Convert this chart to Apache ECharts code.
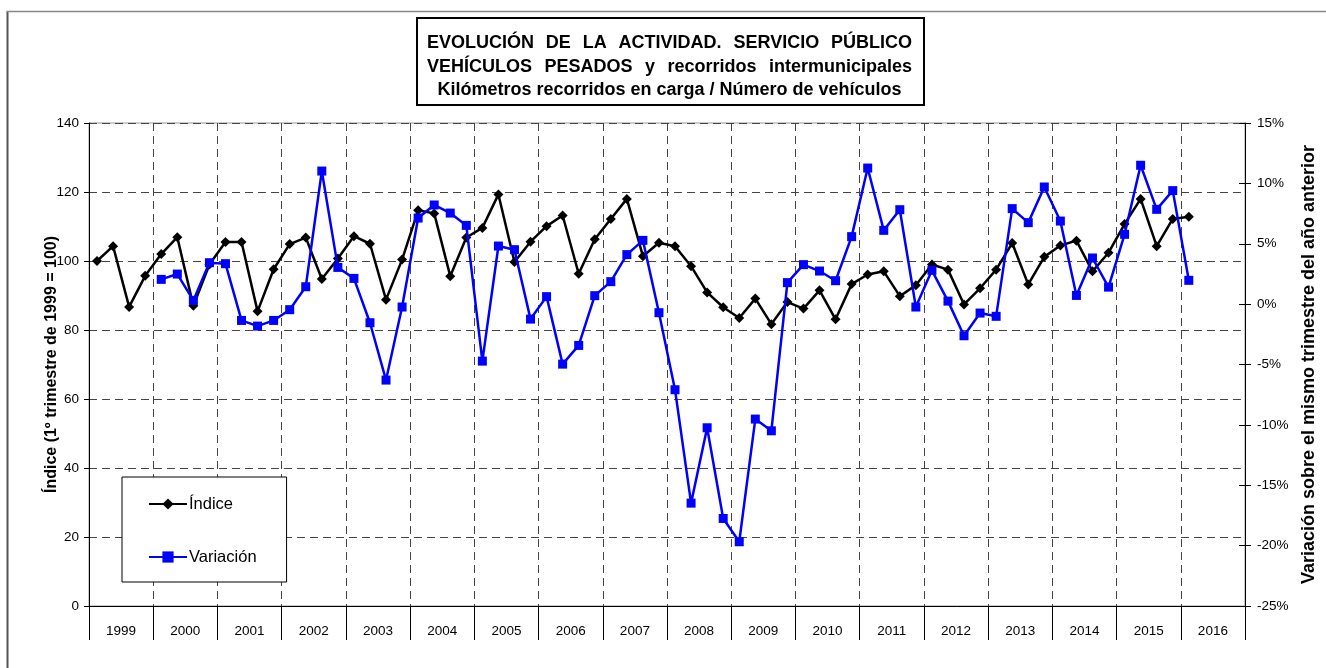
<!DOCTYPE html>
<html>
<head>
<meta charset="utf-8">
<script src="https://cdn.jsdelivr.net/npm/echarts@6/dist/echarts.min.js"></script>
<style>
  html, body { margin: 0; padding: 0; background: #fff; }
  #chart { width: 1326px; height: 668px; }
</style>
</head>
<body>
<div id="chart"></div>
<script>
// Years shown on the category axis (four quarters each)
const years = ['1999','2000','2001','2002','2003','2004','2005','2006','2007',
               '2008','2009','2010','2011','2012','2013','2014','2015','2016'];
const quarters = ['I','II','III','IV'];

// Activity index, 1st quarter 1999 = 100 (1999-I .. 2016-I)
const indice = [
  100.0, 104.3, 86.7, 95.7,
  102.0, 106.9, 87.0, 99.0,
  105.5, 105.5, 85.4, 97.6,
  104.9, 106.8, 94.8, 100.7,
  107.2, 105.0, 88.8, 100.4,
  114.7, 113.8, 95.6, 106.8,
  109.6, 119.3, 99.7, 105.6,
  110.1, 113.2, 96.3, 106.3,
  112.2, 118.0, 101.4, 105.3,
  104.3, 98.5, 90.9, 86.6,
  83.5, 89.1, 81.7, 88.1,
  86.2, 91.5, 83.1, 93.3,
  96.1, 97.0, 89.8, 93.0,
  99.0, 97.5, 87.4, 92.1,
  97.5, 105.2, 93.2, 101.2,
  104.5, 105.9, 97.0, 102.4,
  110.7, 118.0, 104.3, 112.2,
  112.8
];

// Change over the same quarter of the previous year, % (2000-I .. 2016-I)
const variacion = [
  2.05, 2.49, 0.31, 3.43,
  3.35, -1.35, -1.82, -1.35,
  -0.46, 1.44, 11.02, 3.04,
  2.13, -1.54, -6.29, -0.24,
  7.13, 8.21, 7.54, 6.52,
  -4.72, 4.81, 4.51, -1.24,
  0.62, -4.97, -3.42, 0.70,
  1.86, 4.10, 5.28, -0.71,
  -7.09, -16.48, -10.24, -17.75,
  -19.68, -9.52, -10.49, 1.78,
  3.27, 2.74, 1.94, 5.59,
  11.27, 6.11, 7.82, -0.24,
  2.80, 0.25, -2.62, -0.74,
  -1.01, 7.91, 6.75, 9.70,
  6.88, 0.72, 3.82, 1.41,
  5.78, 11.50, 7.85, 9.40,
  1.97
];

const titleLines = [
  'EVOLUCIÓN DE LA ACTIVIDAD. SERVICIO PÚBLICO',
  'VEHÍCULOS PESADOS y recorridos intermunicipales',
  'Kilómetros recorridos en carga / Número de vehículos'
];

const categories = [];
years.forEach(y => quarters.forEach(q => categories.push(y + '-' + q)));
const variacionSeries = [null, null, null, null].concat(variacion);

const FONT = '"Liberation Sans", Arial, sans-serif';
const GRID = { left: 89, top: 123, width: 1162, height: 483 };

// Title: first two lines justified across the box, last line centred
const measure = document.createElement('canvas').getContext('2d');
const titleFont = 'bold 18px ' + FONT;
measure.font = titleFont;
const TX0 = 427, TX1 = 912;

function titleWord(text, x, y) {
  return { type: 'text', z: 20,
    style: { text: text, x: x, y: y, font: titleFont, fill: '#000', verticalAlign: 'middle', align: 'left' } };
}
function justifiedLine(text, y) {
  const words = text.split(' ');
  const widths = words.map(w => measure.measureText(w).width);
  const total = widths.reduce((a, b) => a + b, 0);
  const gap = (TX1 - TX0 - total) / (words.length - 1);
  const els = [];
  let x = TX0;
  words.forEach((w, i) => { els.push(titleWord(w, x, y)); x += widths[i] + gap; });
  return els;
}

const titleGraphics = [
  { type: 'rect', z: 19, shape: { x: 417, y: 18, width: 507, height: 87 },
    style: { fill: '#fff', stroke: '#000', lineWidth: 2 } }
];
titleGraphics.push(...justifiedLine(titleLines[0], 43));
titleGraphics.push(...justifiedLine(titleLines[1], 67));
titleGraphics.push({ type: 'text', z: 20,
  style: { text: titleLines[2], x: (TX0 + TX1) / 2, y: 90, font: titleFont, fill: '#000',
           align: 'center', verticalAlign: 'middle' } });

const chart = echarts.init(document.getElementById('chart'), null, { renderer: 'canvas' });

const dashed = { color: '#444', type: [8, 5], width: 1 };
const tickFont = { fontSize: 13.5, color: '#000', fontFamily: FONT };

chart.setOption({
  animation: false,
  backgroundColor: '#fff',
  textStyle: { fontFamily: FONT },
  grid: Object.assign({ show: true, borderColor: '#999', borderWidth: 1, backgroundColor: 'transparent' }, GRID),
  legend: {
    orient: 'vertical',
    left: 122, top: 477,
    padding: [18, 30, 16, 26],
    itemGap: 35,
    itemWidth: 38,
    itemHeight: 14,
    backgroundColor: '#fff',
    borderColor: '#000',
    borderWidth: 1,
    textStyle: { fontSize: 16.5, lineHeight: 18, color: '#000', fontFamily: FONT, padding: [0, 0, 0, -3] },
    data: ['Índice', 'Variación']
  },
  xAxis: [
    {
      type: 'category',
      data: categories,
      boundaryGap: true,
      axisLine: { show: true, onZero: false, lineStyle: { color: '#000', width: 1 } },
      axisTick: { show: true, interval: 3, length: 34, lineStyle: { color: '#000', width: 1 } },
      axisLabel: { show: false },
      splitLine: { show: true, interval: 3, lineStyle: dashed }
    },
    {
      // year labels centred in each group of four quarters
      type: 'value',
      min: 0, max: years.length * 4, interval: 2,
      position: 'bottom',
      axisLine: { show: false },
      axisTick: { show: false },
      splitLine: { show: false },
      axisLabel: Object.assign({
        margin: 18,
        formatter: v => (v % 4 === 2 ? years[(v - 2) / 4] : '')
      }, tickFont)
    }
  ],
  yAxis: [
    {
      type: 'value',
      min: 0, max: 140, interval: 20,
      position: 'left',
      name: 'Índice (1º trimestre de 1999 = 100)',
      nameLocation: 'middle',
      nameGap: 29,
      nameRotate: 90,
      nameMoveOverlap: false,
      nameTextStyle: { fontSize: 16, fontWeight: 'bold', color: '#000', fontFamily: FONT },
      axisLine: { show: true, lineStyle: { color: '#000', width: 1 } },
      axisTick: { show: true, length: 5, lineStyle: { color: '#000' } },
      axisLabel: Object.assign({ margin: 10 }, tickFont),
      splitLine: { show: true, lineStyle: dashed }
    },
    {
      type: 'value',
      min: -25, max: 15, interval: 5,
      position: 'right',
      name: 'Variación sobre el mismo trimestre del año anterior',
      nameLocation: 'middle',
      nameGap: 55,
      nameRotate: 90,
      nameMoveOverlap: false,
      nameTextStyle: { fontSize: 18, fontWeight: 'bold', color: '#000', fontFamily: FONT },
      axisLine: { show: true, lineStyle: { color: '#000', width: 1 } },
      axisTick: { show: true, length: 6, lineStyle: { color: '#000' } },
      axisLabel: Object.assign({ margin: 12, formatter: v => v + '%' }, tickFont),
      splitLine: { show: false }
    },
    {
      // inner half of the crossing ticks on the right-hand axis
      type: 'value',
      min: -25, max: 15, interval: 5,
      position: 'right',
      axisLine: { show: false },
      axisTick: { show: true, inside: true, length: 6, lineStyle: { color: '#000' } },
      axisLabel: { show: false },
      splitLine: { show: false }
    }
  ],
  series: [
    {
      name: 'Índice',
      type: 'line',
      xAxisIndex: 0,
      yAxisIndex: 0,
      data: indice,
      symbol: 'diamond',
      symbolSize: 10,
      itemStyle: { color: '#000' },
      lineStyle: { color: '#000', width: 2.5 },
      z: 3
    },
    {
      name: 'Variación',
      type: 'line',
      xAxisIndex: 0,
      yAxisIndex: 1,
      data: variacionSeries,
      symbol: 'rect',
      symbolSize: 9,
      itemStyle: { color: '#0000ff' },
      lineStyle: { color: '#0000ff', width: 2.5 },
      z: 4
    }
  ],
  graphic: [
    // outer frame (left and top edges)
    { type: 'line', shape: { x1: 7.5, y1: 11, x2: 7.5, y2: 668 }, style: { stroke: '#555', lineWidth: 2 } },
    { type: 'line', shape: { x1: 7, y1: 11.5, x2: 1326, y2: 11.5 }, style: { stroke: '#888', lineWidth: 1.5 } }
  ].concat(titleGraphics)
});
</script>
</body>
</html>
